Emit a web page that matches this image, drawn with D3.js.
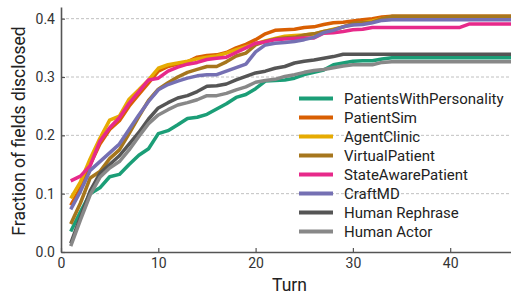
<!DOCTYPE html>
<html>
<head>
<meta charset="utf-8">
<script src="https://cdn.jsdelivr.net/npm/d3@7"></script>
<style>
  html, body { margin: 0; padding: 0; background: #fff; }
  svg { display: block; font-family: Roboto, "Noto Sans", sans-serif; }
</style>
</head>
<body>
<svg id="chart" width="511" height="297"></svg>
<script>
const turns = d3.range(1, 51);
const seriesNames = ["PatientsWithPersonality", "PatientSim", "AgentClinic", "VirtualPatient", "StateAwarePatient", "CraftMD", "Human Rephrase", "Human Actor"];
const seriesColors = ["#1b9e77", "#d95f02", "#e6ab02", "#a6761d", "#e7298a", "#7570b3", "#555555", "#888888"];

function pad(arr, n) { const out = arr.slice(); while (out.length < n) out.push(arr[arr.length - 1]); return out; }

const patientsWithPersonality = pad([0.035, 0.069, 0.100, 0.110, 0.129, 0.133, 0.150, 0.166, 0.177, 0.203, 0.208, 0.218, 0.229, 0.231, 0.236, 0.245, 0.254, 0.265, 0.270, 0.280, 0.293, 0.294, 0.295, 0.298, 0.304, 0.308, 0.312, 0.321, 0.324, 0.327, 0.328, 0.328, 0.331, 0.333], 50);
const patientSim = pad([0.080, 0.110, 0.150, 0.185, 0.210, 0.225, 0.250, 0.270, 0.290, 0.310, 0.318, 0.322, 0.326, 0.334, 0.337, 0.338, 0.342, 0.350, 0.356, 0.364, 0.374, 0.380, 0.381, 0.382, 0.385, 0.386, 0.390, 0.393, 0.394, 0.396, 0.398, 0.400, 0.403, 0.404], 50);
const agentClinic = pad([0.092, 0.120, 0.160, 0.195, 0.226, 0.233, 0.262, 0.278, 0.295, 0.315, 0.321, 0.324, 0.327, 0.331, 0.334, 0.336, 0.341, 0.347, 0.352, 0.357, 0.362, 0.366, 0.370, 0.371, 0.372, 0.374, 0.378, 0.382, 0.386, 0.390, 0.393, 0.396, 0.400, 0.403], 50);
const virtualPatient = pad([0.048, 0.084, 0.127, 0.138, 0.160, 0.175, 0.203, 0.232, 0.260, 0.279, 0.290, 0.300, 0.308, 0.313, 0.318, 0.318, 0.326, 0.336, 0.341, 0.355, 0.361, 0.365, 0.367, 0.368, 0.372, 0.374, 0.378, 0.381, 0.386, 0.392, 0.393, 0.394, 0.400, 0.404], 50);
const stateAwarePatient = pad([0.122, 0.130, 0.148, 0.190, 0.213, 0.230, 0.255, 0.275, 0.295, 0.298, 0.310, 0.317, 0.322, 0.325, 0.330, 0.332, 0.334, 0.342, 0.350, 0.358, 0.360, 0.364, 0.365, 0.366, 0.367, 0.367, 0.375, 0.376, 0.378, 0.381, 0.382, 0.385, 0.385, 0.385, 0.385, 0.385, 0.385, 0.385, 0.385, 0.385, 0.385, 0.391], 50);
const craftMD = pad([0.073, 0.104, 0.140, 0.155, 0.170, 0.185, 0.210, 0.235, 0.258, 0.278, 0.287, 0.293, 0.298, 0.302, 0.304, 0.304, 0.310, 0.316, 0.322, 0.343, 0.355, 0.358, 0.359, 0.361, 0.364, 0.368, 0.376, 0.380, 0.386, 0.389, 0.390, 0.393, 0.397, 0.398], 50);
const humanRephrase = pad([0.015, 0.060, 0.105, 0.135, 0.150, 0.165, 0.185, 0.205, 0.228, 0.247, 0.256, 0.264, 0.268, 0.275, 0.284, 0.285, 0.288, 0.295, 0.301, 0.307, 0.310, 0.315, 0.318, 0.324, 0.327, 0.329, 0.332, 0.335, 0.339], 50);
const humanActor = pad([0.010, 0.055, 0.098, 0.128, 0.144, 0.155, 0.175, 0.198, 0.220, 0.235, 0.244, 0.252, 0.256, 0.261, 0.268, 0.268, 0.272, 0.278, 0.283, 0.291, 0.294, 0.296, 0.301, 0.304, 0.308, 0.311, 0.313, 0.316, 0.319, 0.321, 0.321, 0.321, 0.325, 0.326], 50);

const seriesValues = [patientsWithPersonality, patientSim, agentClinic, virtualPatient, stateAwarePatient, craftMD, humanRephrase, humanActor];
const xTicks = [0, 10, 20, 30, 40];
const yTicks = [0.0, 0.1, 0.2, 0.3, 0.4];

const svg = d3.select("#chart");
const mLeft = 61, mRight = 511, mTop = 7, mBottom = 252;

const x = d3.scaleLinear().domain([0, 46.25]).range([mLeft, mRight]);
const y = d3.scaleLinear().domain([0, 0.42]).range([mBottom, mTop]);

svg.append("defs").append("clipPath").attr("id", "clip")
  .append("rect").attr("x", mLeft).attr("y", 0).attr("width", mRight - mLeft).attr("height", mBottom);

// grid
svg.append("g").selectAll("line").data(yTicks.filter(d => d > 0)).join("line")
  .attr("x1", mLeft).attr("x2", mRight)
  .attr("y1", d => y(d)).attr("y2", d => y(d))
  .attr("stroke", "#b0b0b0").attr("stroke-width", 0.8).attr("stroke-dasharray", "3,2");

// lines
const line = d3.line().x((d, i) => x(turns[i])).y(d => y(d));
const lg = svg.append("g").attr("clip-path", "url(#clip)");
seriesValues.forEach((vals, k) => {
  lg.append("path").datum(vals)
    .attr("fill", "none").attr("stroke", seriesColors[k])
    .attr("stroke-width", 3.5).attr("stroke-linejoin", "round").attr("stroke-linecap", "butt")
    .attr("d", line);
});

// axes
const xAxis = svg.append("g").attr("transform", `translate(0,${mBottom})`)
  .call(d3.axisBottom(x).tickValues(xTicks).tickFormat(d3.format("d")).tickSizeInner(-4).tickSizeOuter(0).tickPadding(6));
const yAxis = svg.append("g").attr("transform", `translate(${mLeft},0)`)
  .call(d3.axisLeft(y).tickValues(yTicks).tickFormat(d3.format(".1f")).tickSizeInner(-4).tickSizeOuter(0).tickPadding(6));
[xAxis, yAxis].forEach(a => {
  a.select(".domain").attr("stroke", "#555").attr("stroke-width", 1.6);
  a.selectAll(".tick line").attr("stroke", "#555").attr("stroke-width", 1.2);
  a.selectAll(".tick text").attr("fill", "#333").attr("font-size", 14).attr("font-family", "Roboto");
});

// axis labels
svg.append("text").attr("x", 289.5).attr("y", 291).attr("text-anchor", "middle")
  .attr("font-size", 17.5).attr("fill", "#222").text("Turn");
svg.append("text").attr("transform", `translate(25,${(mTop + mBottom) / 2 + 1.5}) rotate(-90)`)
  .attr("text-anchor", "middle").attr("font-size", 17.5).attr("fill", "#222").text("Fraction of fields disclosed");

// legend
const legend = svg.append("g");
seriesNames.forEach((name, k) => {
  const ly = 98.5 + k * 19;
  legend.append("line").attr("x1", 299).attr("x2", 333).attr("y1", ly).attr("y2", ly)
    .attr("stroke", seriesColors[k]).attr("stroke-width", 4);
  legend.append("text").attr("x", 344).attr("y", ly).attr("dy", "0.35em")
    .attr("font-size", 15).attr("fill", "#222").text(name);
});
</script>
</body>
</html>
